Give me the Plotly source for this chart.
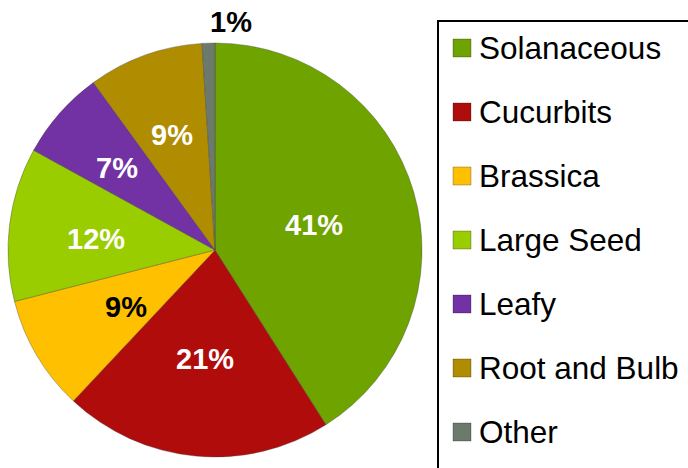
import math
import plotly.graph_objects as go

categories = ["Solanaceous", "Cucurbits", "Brassica", "Large Seed", "Leafy", "Root and Bulb", "Other"]
values = [41, 21, 9, 12, 7, 9, 1]
labels_text = ["41%", "21%", "9%", "12%", "7%", "9%", "1%"]
colors = ["#6fa300", "#b00c0c", "#ffc000", "#9acd00", "#7232a3", "#b08c00", "#6b7a6b"]
text_colors = ["white", "white", "black", "white", "white", "white", "black"]
label_radius = [0.50, 0.51, 0.50, 0.58, 0.63, 0.61, 1.10]  # fraction of pie radius

W, H = 688, 468
FONT = "Liberation Sans, Arial"
CX, CY, R = 215, 250, 207

fig = go.Figure()
fig.add_trace(go.Pie(
    labels=categories,
    values=values,
    textinfo="none",
    marker=dict(colors=colors, line=dict(color="rgba(60,60,60,0.35)", width=1)),
    sort=False,
    direction="clockwise",
    rotation=0,
    showlegend=False,
    hoverinfo="label+percent",
    domain=dict(x=[(CX - R) / W, (CX + R) / W], y=[1 - (CY + R) / H, 1 - (CY - R) / H]),
))

annotations = []
total = sum(values)
cum = 0
for i, v in enumerate(values):
    mid = (cum + v / 2) / total * 2 * math.pi
    cum += v
    r = label_radius[i] * R
    px = CX + r * math.sin(mid)
    py = CY - r * math.cos(mid)
    outside = label_radius[i] > 1
    annotations.append(dict(xref="paper", yref="paper", x=px / W, y=1 - py / H,
                            text="<b>%s</b>" % labels_text[i], showarrow=False,
                            xanchor="left" if outside else "center", yanchor="middle",
                            yshift=0 if outside else -4,
                            font=dict(family=FONT, size=29, color=text_colors[i])))

# Legend box
shapes = [dict(type="rect", xref="paper", yref="paper",
               x0=438 / W, x1=1.02, y0=-0.02, y1=1 - 21 / H,
               line=dict(color="black", width=2), fillcolor="rgba(0,0,0,0)")]
y_first, spacing = 48, 64
for i, (cat, col) in enumerate(zip(categories, colors)):
    yc = y_first + i * spacing
    shapes.append(dict(type="rect", xref="paper", yref="paper",
                       x0=453 / W, x1=471 / W,
                       y0=1 - (yc + 9) / H, y1=1 - (yc - 9) / H,
                       line=dict(color="rgba(0,0,0,0.25)", width=1), fillcolor=col))
    annotations.append(dict(xref="paper", yref="paper", x=477 / W, y=1 - yc / H,
                            text=cat, showarrow=False, xanchor="left", yanchor="middle",
                            font=dict(family=FONT, size=31.5, color="black")))

fig.update_layout(
    width=W, height=H,
    margin=dict(l=0, r=0, t=0, b=0),
    paper_bgcolor="white",
    plot_bgcolor="white",
    shapes=shapes,
    annotations=annotations,
)

fig.write_html("out.html", config={"displayModeBar": False},
               post_script="document.body.style.margin='0';document.body.style.overflow='hidden';")
